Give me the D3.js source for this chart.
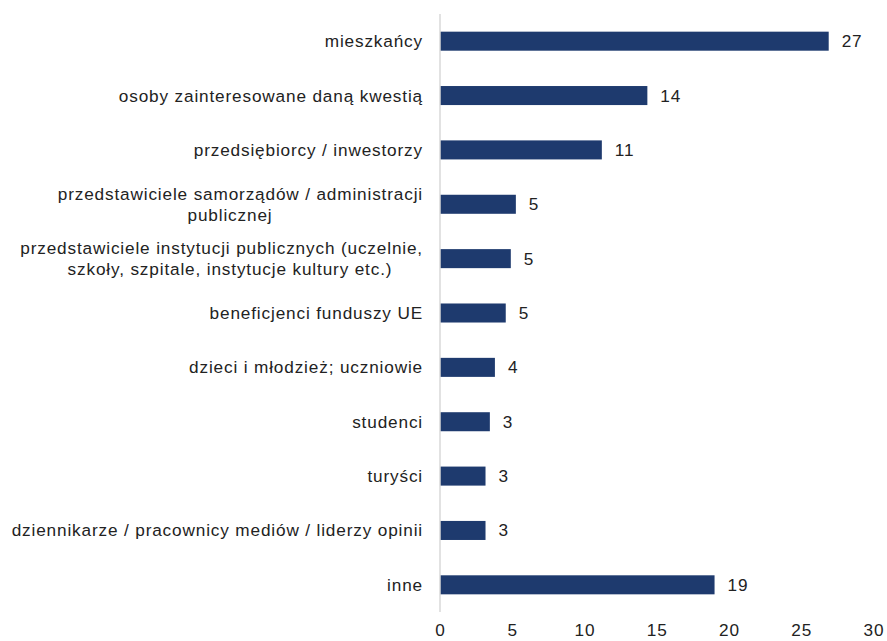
<!DOCTYPE html>
<html>
<head>
<meta charset="utf-8">
<script src="https://cdn.jsdelivr.net/npm/d3@7"></script>
<style>
  html, body { margin: 0; padding: 0; background: #ffffff; }
  svg text { font-family: "Liberation Sans", Arial, Helvetica, sans-serif; fill: #222222; }
</style>
</head>
<body>
<svg id="chart" width="887" height="641"></svg>
<script>
// Categories (top to bottom); "\n" marks a manual line break in the label
const categories = [
  "mieszkańcy",
  "osoby zainteresowane daną kwestią",
  "przedsiębiorcy / inwestorzy",
  "przedstawiciele samorządów / administracji\npublicznej",
  "przedstawiciele instytucji publicznych (uczelnie,\nszkoły, szpitale, instytucje kultury etc.)",
  "beneficjenci funduszy UE",
  "dzieci i młodzież; uczniowie",
  "studenci",
  "turyści",
  "dziennikarze / pracownicy mediów / liderzy opinii",
  "inne"
];

// Values per category (labels show them rounded)
const values = [26.9, 14.35, 11.2, 5.25, 4.9, 4.55, 3.8, 3.45, 3.15, 3.15, 19.0];

// Axis ticks
const xTicks = [0, 5, 10, 15, 20, 25, 30];

const data = categories.map((c, i) => ({ category: c, value: values[i] }));

const svg = d3.select("#chart");
const margin = { top: 14, right: 13, bottom: 29, left: 440 };
const width = 887;
const height = 641;

const x = d3.scaleLinear()
  .domain([0, 30])
  .range([margin.left, width - margin.right - 0.5]);

const y = d3.scaleBand()
  .domain(categories)
  .range([margin.top, height - margin.bottom])
  .paddingInner(0.65)
  .paddingOuter(0.325);

const fontSize = 17.2;
const letterSpacing = 0.85;

// Bars
svg.append("g")
  .selectAll("rect")
  .data(data)
  .join("rect")
  .attr("x", x(0))
  .attr("y", d => y(d.category))
  .attr("width", d => x(d.value) - x(0))
  .attr("height", y.bandwidth())
  .attr("fill", "#1e3a6e");

// Vertical axis line
svg.append("line")
  .attr("x1", x(0)).attr("x2", x(0))
  .attr("y1", margin.top).attr("y2", height - margin.bottom)
  .attr("stroke", "#d9d9d9")
  .attr("stroke-width", 1.5);

// Bottom axis tick labels (no line, no tick marks)
const xAxis = d3.axisBottom(x)
  .tickValues(xTicks)
  .tickFormat(d3.format("d"))
  .tickSize(0)
  .tickPadding(0);

const gx = svg.append("g")
  .attr("transform", `translate(0, ${height - 11})`)
  .call(xAxis);
gx.select(".domain").remove();
gx.selectAll("text")
  .attr("y", 0)
  .attr("dy", "0.35em")
  .style("font-size", fontSize + "px")
  .style("letter-spacing", letterSpacing + "px")
  .style("font-family", "\"Liberation Sans\", Arial, sans-serif")
  .attr("fill", "#222222");

// Value labels at bar ends
const fmt = d3.format(".0f");
svg.append("g")
  .selectAll("text")
  .data(data)
  .join("text")
  .attr("x", d => x(d.value) + 13)
  .attr("y", d => y(d.category) + y.bandwidth() / 2)
  .attr("dy", "0.35em")
  .style("font-size", fontSize + "px")
  .style("letter-spacing", letterSpacing + "px")
  .text(d => fmt(d.value));

// Category labels, right-aligned; continuation lines centred in the label column
const labelRight = x(0) - 17;
const wrapCentre = labelRight - 193;
const lineHeight = 21;
const catG = svg.append("g");
data.forEach(d => {
  const lines = d.category.split("\n");
  const cy = y(d.category) + y.bandwidth() / 2;
  const y0 = cy - (lines.length - 1) * lineHeight / 2;
  lines.forEach((ln, k) => {
    catG.append("text")
      .attr("x", k === 0 ? labelRight : wrapCentre)
      .attr("y", y0 + k * lineHeight)
      .attr("dy", "0.35em")
      .attr("text-anchor", k === 0 ? "end" : "middle")
      .style("font-size", fontSize + "px")
      .style("letter-spacing", letterSpacing + "px")
      .text(ln);
  });
});
</script>
</body>
</html>
